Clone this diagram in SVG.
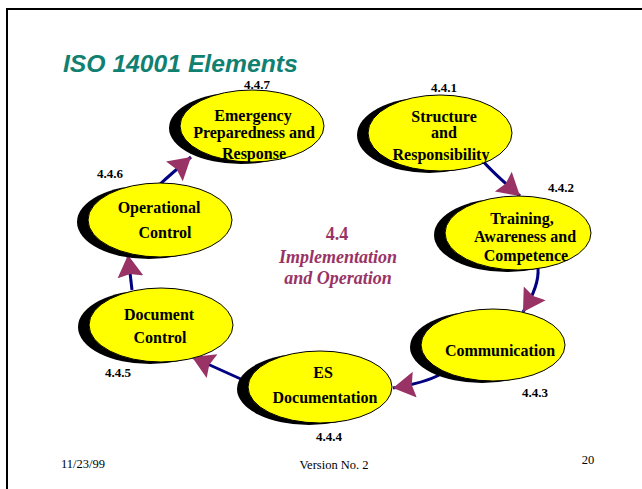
<svg xmlns="http://www.w3.org/2000/svg" width="642" height="489" viewBox="0 0 642 489">
<style>
.shadow{fill:#000}
.body{fill:#FFFF00;stroke:#000;stroke-width:1}
.nt{font-family:"Liberation Serif","Times New Roman",serif;font-weight:bold;font-size:16px;fill:#000;text-anchor:middle}
.num{font-family:"Liberation Serif","Times New Roman",serif;font-weight:bold;font-size:13px;fill:#000;text-anchor:middle}
.conn{fill:none;stroke:#000080;stroke-width:3;marker-end:url(#ah)}
.foot{font-family:"Liberation Serif","Times New Roman",serif;font-size:12.5px;fill:#000}
.center{font-family:"Liberation Serif","Times New Roman",serif;font-weight:bold;font-size:18px;fill:#993366;text-anchor:middle}
</style>
<defs>
<marker id="ah" markerUnits="userSpaceOnUse" markerWidth="24" markerHeight="28" refX="22" refY="13" orient="auto">
<path d="M0,0 L22,13 L0,26 L3,13 z" fill="#993366"/>
</marker>
</defs>
<rect x="0" y="0" width="642" height="489" fill="#fff"/>
<rect x="7" y="9" width="700" height="600" fill="none" stroke="#000" stroke-width="2"/>
<text x="63" y="72" font-family="Liberation Sans, Arial, sans-serif" font-weight="bold" font-style="italic" font-size="24.7" fill="#108070">ISO 14001 Elements</text>

<g id="connectors">
<path class="conn" d="M482,160 Q492,172 520,196"/>
<path class="conn" d="M538,268 C539,280 535,293 523,312"/>
<path class="conn" d="M441,374 Q425,383 393,388"/>
<path class="conn" d="M243,380 Q225,372 192,357"/>
<path class="conn" d="M132,290 L128,255"/>
<path class="conn" d="M159,185 Q170,175 191,157"/>
</g>

<g id="n447">
<ellipse class="shadow" cx="241" cy="128" rx="72" ry="36"/>
<ellipse class="body" cx="252" cy="126" rx="72" ry="36"/>
<text class="nt" x="253" y="120.5">Emergency</text>
<text class="nt" x="254" y="138">Preparedness and</text>
<text class="nt" x="254" y="159">Response</text>
<text class="num" x="257" y="89">4.4.7</text>
</g>

<g id="n441">
<ellipse class="shadow" cx="429" cy="135" rx="72" ry="38"/>
<ellipse class="body" cx="440" cy="133" rx="72" ry="38"/>
<text class="nt" x="444" y="122">Structure</text>
<text class="nt" x="444" y="138">and</text>
<text class="nt" x="441" y="160">Responsibility</text>
<text class="num" x="444" y="92">4.4.1</text>
</g>

<g id="n442">
<ellipse class="shadow" cx="507" cy="235" rx="73" ry="37"/>
<ellipse class="body" cx="518" cy="233" rx="73" ry="37"/>
<text class="nt" x="522" y="224">Training,</text>
<text class="nt" x="525" y="242">Awareness and</text>
<text class="nt" x="526" y="261">Competence</text>
<text class="num" x="561" y="192">4.4.2</text>
</g>

<g id="n443">
<ellipse class="shadow" cx="482" cy="347" rx="72" ry="36"/>
<ellipse class="body" cx="493" cy="345" rx="72" ry="36"/>
<text class="nt" x="500" y="356">Communication</text>
<text class="num" x="535" y="397">4.4.3</text>
</g>

<g id="n444">
<ellipse class="shadow" cx="309" cy="389" rx="72" ry="36"/>
<ellipse class="body" cx="320" cy="387" rx="72" ry="36"/>
<text class="nt" x="323" y="378">ES</text>
<text class="nt" x="325" y="403">Documentation</text>
<text class="num" x="329" y="441">4.4.4</text>
</g>

<g id="n445">
<ellipse class="shadow" cx="150" cy="327" rx="72" ry="37"/>
<ellipse class="body" cx="161" cy="325" rx="72" ry="37"/>
<text class="nt" x="159" y="320">Document</text>
<text class="nt" x="160" y="343">Control</text>
<text class="num" x="118" y="377">4.4.5</text>
</g>

<g id="n446">
<ellipse class="shadow" cx="149" cy="222" rx="72" ry="37"/>
<ellipse class="body" cx="160" cy="220" rx="72" ry="37"/>
<text class="nt" x="159" y="213">Operational</text>
<text class="nt" x="165" y="238">Control</text>
<text class="num" x="110" y="178">4.4.6</text>
</g>

<g id="center">
<text class="center" x="337" y="240">4.4</text>
<text class="center" x="338" y="263" font-style="italic">Implementation</text>
<text class="center" x="338" y="284" font-style="italic">and Operation</text>
</g>

<text class="foot" x="61" y="468">11/23/99</text>
<text class="foot" x="334" y="469" text-anchor="middle">Version No. 2</text>
<text class="foot" x="588" y="464" text-anchor="middle">20</text>
</svg>
